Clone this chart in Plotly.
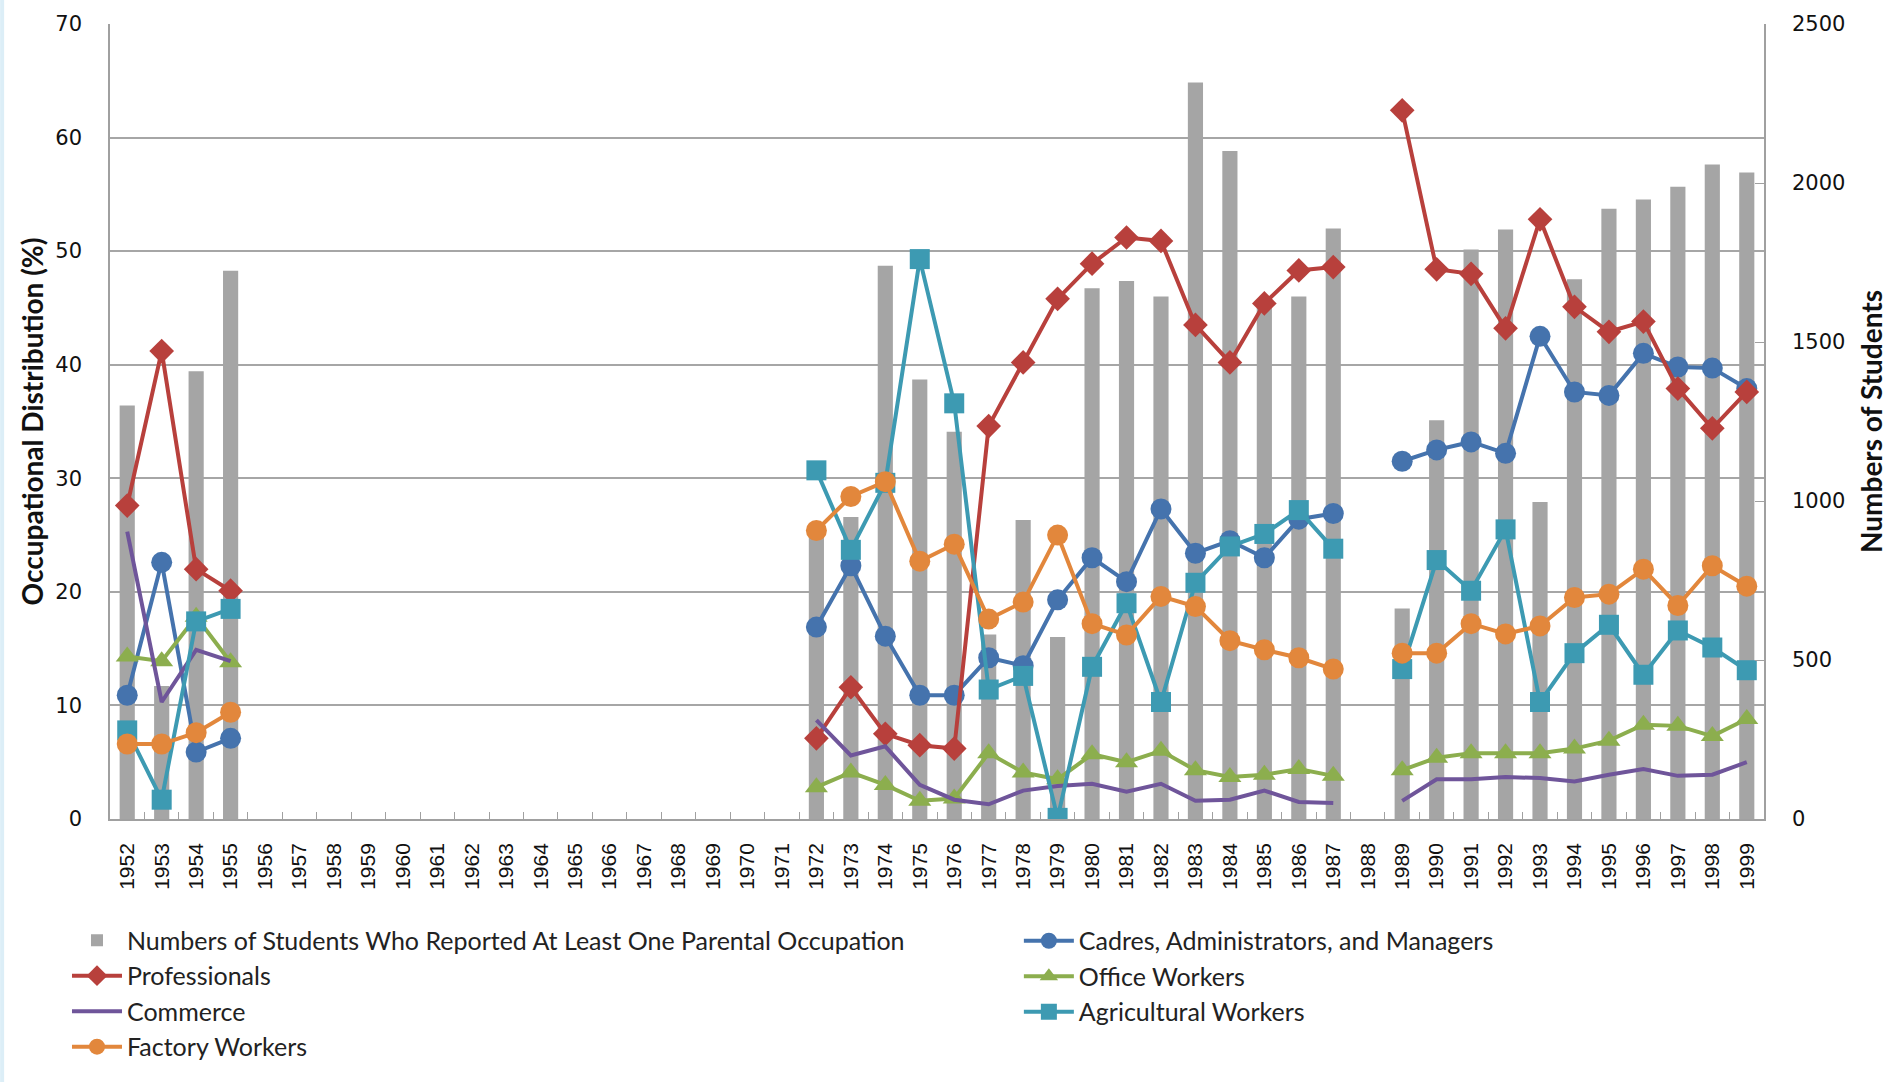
import plotly.graph_objects as go

years = [str(y) for y in range(1952, 2000)]
gap16 = [None] * 16

students = ([1300, 418, 1408, 1724] + gap16 +
            [905, 950, 1740, 1382, 1218, 580, 940, 572, 1669, 1692, 1643, 2316, 2101, 1607, 1643, 1857] +
            [None] + [662, 1254, 1791, 1854, 997, 1697, 1919, 1948, 1988, 2058, 2033])

cadres = ([10.9, 22.6, 5.9, 7.1] + gap16 +
          [16.9, 22.3, 16.1, 10.9, 10.9, 14.2, 13.5, 19.3, 23.0, 20.9, 27.3, 23.4, 24.5, 23.0, 26.4, 26.9] +
          [None] + [31.5, 32.5, 33.2, 32.2, 42.5, 37.6, 37.3, 41.0, 39.8, 39.7, 37.9])

professionals = ([27.6, 41.2, 22.0, 20.1] + gap16 +
                 [7.1, 11.6, 7.5, 6.5, 6.2, 34.6, 40.2, 45.8, 48.9, 51.2, 50.9, 43.5, 40.2, 45.4, 48.3, 48.6] +
                 [None] + [62.4, 48.4, 48.0, 43.2, 52.8, 45.1, 42.9, 43.8, 37.9, 34.4, 37.6])

office = ([14.3, 13.9, 17.8, 13.8] + gap16 +
          [2.8, 4.1, 3.0, 1.6, 1.8, 5.8, 4.1, 3.5, 5.7, 5.0, 6.0, 4.3, 3.7, 3.9, 4.4, 3.8] +
          [None] + [4.3, 5.4, 5.8, 5.8, 5.8, 6.2, 6.9, 8.3, 8.2, 7.3, 8.8])

commerce = ([25.3, 10.3, 14.9, 13.9] + gap16 +
            [8.7, 5.6, 6.4, 3.0, 1.7, 1.3, 2.5, 2.9, 3.1, 2.4, 3.1, 1.6, 1.7, 2.5, 1.5, 1.4] +
            [None] + [1.6, 3.5, 3.5, 3.7, 3.6, 3.3, 3.9, 4.4, 3.8, 3.9, 5.0])

agricultural = ([7.8, 1.7, 17.4, 18.5] + gap16 +
                [30.7, 23.7, 29.6, 49.3, 36.6, 11.4, 12.6, 0.1, 13.4, 19.0, 10.3, 20.8, 24.0, 25.1, 27.2, 23.8] +
                [None] + [13.2, 22.8, 20.1, 25.5, 10.3, 14.6, 17.1, 12.7, 16.6, 15.1, 13.1])

factory = ([6.6, 6.6, 7.6, 9.4] + gap16 +
           [25.4, 28.4, 29.7, 22.7, 24.2, 17.6, 19.1, 25.0, 17.2, 16.2, 19.6, 18.7, 15.7, 14.9, 14.2, 13.2] +
           [None] + [14.6, 14.6, 17.2, 16.3, 17.0, 19.5, 19.8, 22.0, 18.8, 22.3, 20.5])

fig = go.Figure()

fig.add_trace(go.Bar(x=years, y=students, yaxis="y", legend="legend",
                     name="Numbers of Students Who Reported At Least One Parental Occupation",
                     marker=dict(color="#A5A5A5", line=dict(width=0))))

# (name, values, colour, symbol, size, legend column)
lines = [
    ("Cadres, Administrators, and Managers", cadres, "#4573AD", "circle", 21, "legend2"),
    ("Professionals", professionals, "#B8403C", "diamond", 19, "legend"),
    ("Office Workers", office, "#8CAE4E", "triangle-up", 20, "legend2"),
    ("Commerce", commerce, "#6F559A", None, 0, "legend"),
    ("Agricultural Workers", agricultural, "#3D9AB2", "square", 20, "legend2"),
    ("Factory Workers", factory, "#E2873C", "circle", 21, "legend"),
]
for name, vals, col, sym, sz, leg in lines:
    if sym:
        fig.add_trace(go.Scatter(x=years, y=vals, yaxis="y2", name=name, legend=leg,
                                 mode="lines+markers", line=dict(color=col, width=4),
                                 marker=dict(symbol=sym, size=sz, color=col)))
    else:
        fig.add_trace(go.Scatter(x=years, y=vals, yaxis="y2", name=name, legend=leg,
                                 mode="lines", line=dict(color=col, width=4)))

legend_font = dict(family="Lato, sans-serif", size=25, color="#222222")
title_font = dict(family="Lato, sans-serif", size=28, color="#111111", weight="bold")
tick_font = dict(family="DejaVu Sans, sans-serif", size=21, color="#111111")

fig.update_layout(
    width=1895, height=1082,
    margin=dict(l=110, r=129, t=18, b=255),
    paper_bgcolor="white", plot_bgcolor="white",
    bargap=0.56,
    showlegend=True,
    legend=dict(orientation="v", x=-0.026, y=-0.315, xanchor="left", yanchor="bottom",
                itemwidth=50, traceorder="normal", font=legend_font),
    legend2=dict(orientation="v", x=0.5495, y=-0.1245, xanchor="left", yanchor="top",
                 itemwidth=50, traceorder="normal", font=legend_font),
    xaxis=dict(type="category", categoryorder="array", categoryarray=years,
               range=[-0.5, len(years) - 0.5],
               tickangle=-90, tickson="boundaries", ticks="inside", ticklen=7,
               tickcolor="#A0A0A0", showline=True, linecolor="#A0A0A0", linewidth=1.5,
               showgrid=False, ticklabelstandoff=14,
               tickfont=dict(family="Liberation Sans, Arial, sans-serif", size=21, color="#111111")),
    yaxis=dict(side="right", range=[0, 2500], dtick=500, showgrid=False,
               ticks="inside", ticklen=9, tickcolor="#A0A0A0",
               showline=True, linecolor="#A0A0A0", linewidth=1.5,
               ticklabelstandoff=22, tickfont=tick_font,
               title=dict(text="Numbers of Students", standoff=18, font=title_font)),
    yaxis2=dict(side="left", overlaying="y", range=[0, 70], dtick=10,
                showgrid=True, gridcolor="#A6A6A6", gridwidth=1.5,
                showline=True, linecolor="#A0A0A0", linewidth=1.5, zeroline=False,
                ticks="", ticklabelstandoff=22, tickfont=tick_font,
                title=dict(text="Occupational Distribution (%)", standoff=4, font=title_font)),
    shapes=[dict(type="rect", xref="paper", yref="paper", x0=-110 / 1656, x1=-106 / 1656,
                 y0=-0.4, y1=1.05, fillcolor="#DCEEF7", line=dict(width=0), layer="below")],
)

fig.write_html("out.html", config={"displayModeBar": False},
               post_script="document.body.style.margin='0';")
